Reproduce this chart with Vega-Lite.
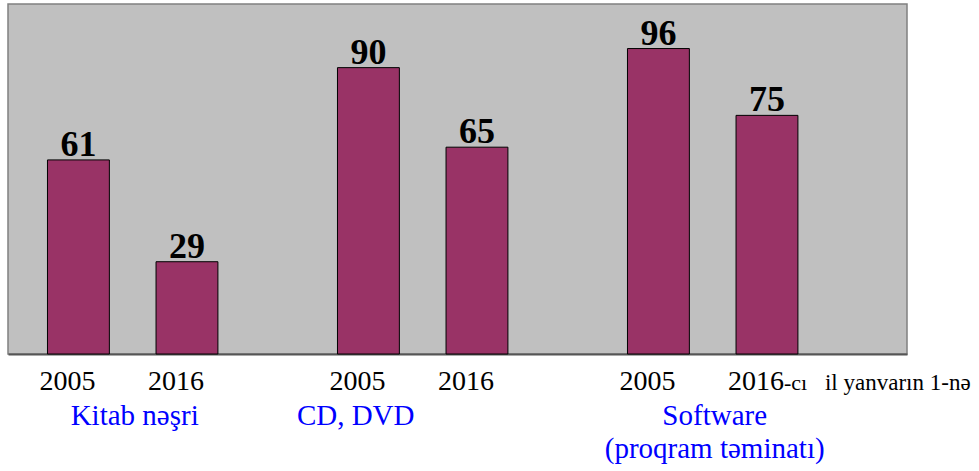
{
  "$schema": "https://vega.github.io/schema/vega-lite/v6.json",
  "width": 899,
  "height": 350,
  "autosize": {"type": "none"},
  "padding": {"left": 8, "top": 4, "right": 72, "bottom": 117},
  "background": "white",
  "config": {
    "view": {"fill": "#c0c0c0", "stroke": "#808080", "strokeWidth": 1.5},
    "font": "Liberation Serif"
  },
  "datasets": {
    "bars": [
      {"group": "Kitab nəşri", "year": "2005", "value": 61, "note": "", "note2": ""},
      {"group": "Kitab nəşri", "year": "2016", "value": 29, "note": "", "note2": ""},
      {"group": "CD, DVD", "year": "2005", "value": 90, "note": "", "note2": ""},
      {"group": "CD, DVD", "year": "2016", "value": 65, "note": "", "note2": ""},
      {"group": "Software", "year": "2005", "value": 96, "note": "", "note2": ""},
      {"group": "Software", "year": "2016", "value": 75, "note": "-cı", "note2": "il yanvarın 1-nə"}
    ],
    "groups": [
      {"group": "Kitab nəşri", "label": "Kitab nəşri"},
      {"group": "CD, DVD", "label": "CD, DVD"},
      {"group": "Software", "label": "Software\n(proqram təminatı)"}
    ]
  },
  "data": {"name": "bars"},
  "encoding": {
    "x": {
      "field": "group",
      "type": "nominal",
      "sort": null,
      "scale": {"paddingInner": 0.3, "paddingOuter": 0.2, "align": 0.2},
      "axis": {
        "title": null,
        "labels": false,
        "ticks": false,
        "tickSize": 0,
        "domainColor": "#555555",
        "domainWidth": 2
      }
    }
  },
  "layer": [
    {
      "mark": {"type": "bar", "color": "#993366", "stroke": "#000000", "strokeWidth": 1},
      "encoding": {
        "xOffset": {"field": "year", "type": "nominal", "scale": {"paddingInner": 0.43, "paddingOuter": 0.15}},
        "y": {"field": "value", "type": "quantitative", "scale": {"domain": [0, 109]}, "axis": null}
      }
    },
    {
      "mark": {"type": "text", "font": "Liberation Serif", "fontSize": 36, "fontWeight": "bold", "baseline": "alphabetic", "dy": -4, "color": "#000000"},
      "encoding": {
        "xOffset": {"field": "year", "type": "nominal"},
        "y": {"field": "value", "type": "quantitative"},
        "text": {"field": "value", "type": "quantitative"}
      }
    },
    {
      "mark": {"type": "text", "font": "Liberation Serif", "fontSize": 28, "baseline": "alphabetic", "dy": 36, "dx": -11, "color": "#000000"},
      "encoding": {
        "xOffset": {"field": "year", "type": "nominal"},
        "y": {"datum": 0, "type": "quantitative"},
        "text": {"field": "year", "type": "nominal"}
      }
    },
    {
      "transform": [{"filter": "datum.note != ''"}],
      "mark": {"type": "text", "font": "Liberation Serif", "fontSize": 22, "baseline": "alphabetic", "align": "left", "dy": 36, "dx": 17, "color": "#000000"},
      "encoding": {
        "xOffset": {"field": "year", "type": "nominal"},
        "y": {"datum": 0, "type": "quantitative"},
        "text": {"field": "note", "type": "nominal"}
      }
    },
    {
      "transform": [{"filter": "datum.note2 != ''"}],
      "mark": {"type": "text", "font": "Liberation Serif", "fontSize": 23, "baseline": "alphabetic", "align": "left", "dy": 36, "dx": 58, "color": "#000000"},
      "encoding": {
        "xOffset": {"field": "year", "type": "nominal"},
        "y": {"datum": 0, "type": "quantitative"},
        "text": {"field": "note2", "type": "nominal"}
      }
    },
    {
      "data": {"name": "groups"},
      "transform": [{"filter": "datum.group != 'CD, DVD'"}],
      "mark": {"type": "text", "font": "Liberation Serif", "fontSize": 29, "baseline": "alphabetic", "dy": 71, "dx": 2, "lineBreak": "\n", "lineHeight": 33, "color": "#0000ff"},
      "encoding": {
        "y": {"datum": 0, "type": "quantitative"},
        "text": {"field": "label", "type": "nominal"}
      }
    },
    {
      "data": {"name": "groups"},
      "transform": [{"filter": "datum.group == 'CD, DVD'"}],
      "mark": {"type": "text", "font": "Liberation Serif", "fontSize": 29, "baseline": "alphabetic", "dy": 71, "dx": -67, "color": "#0000ff"},
      "encoding": {
        "y": {"datum": 0, "type": "quantitative"},
        "text": {"field": "label", "type": "nominal"}
      }
    }
  ]
}
